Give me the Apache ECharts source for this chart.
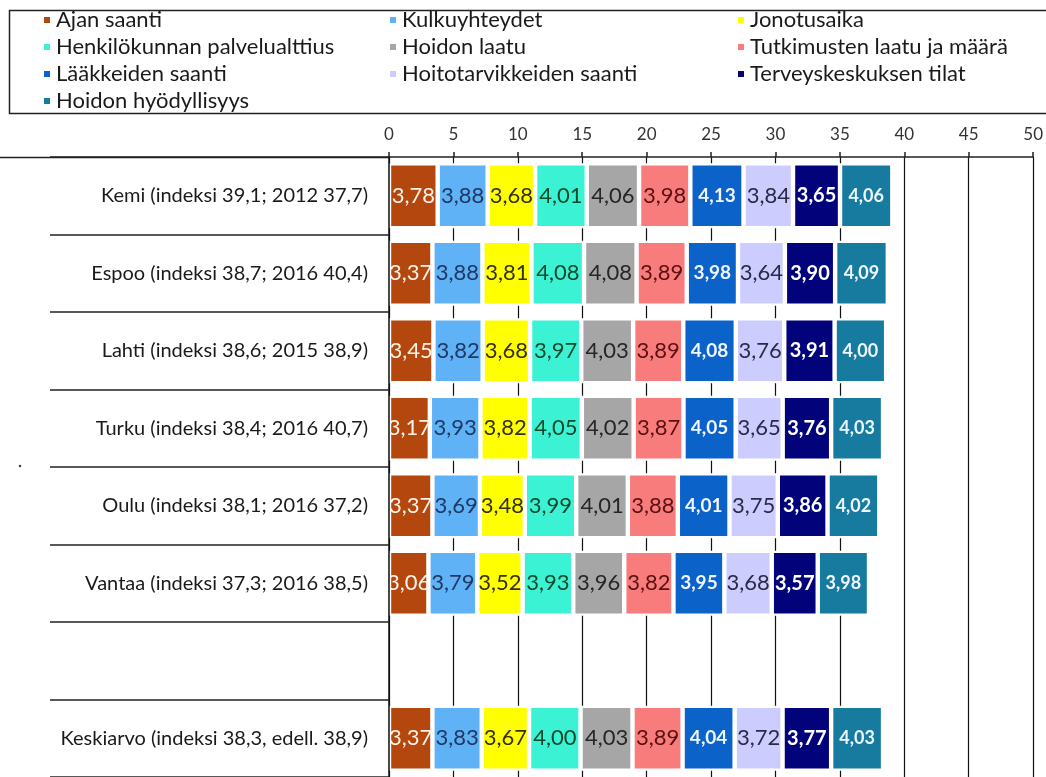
<!DOCTYPE html>
<html>
<head>
<meta charset="utf-8">
<script src="https://cdn.jsdelivr.net/npm/echarts@6/dist/echarts.min.js"></script>
<style>html,body{margin:0;padding:0;background:#fff}#c{width:1046px;height:777px}</style>
</head>
<body>
<div id="c"></div>
<script>
const categories = [
  'Kemi (indeksi 39,1; 2012 37,7)',
  'Espoo (indeksi 38,7; 2016 40,4)',
  'Lahti (indeksi 38,6; 2015 38,9)',
  'Turku (indeksi 38,4; 2016 40,7)',
  'Oulu (indeksi 38,1; 2016 37,2)',
  'Vantaa (indeksi 37,3; 2016 38,5)',
  '',
  'Keskiarvo (indeksi 38,3, edell. 38,9)'
];
const xTicks = [0, 5, 10, 15, 20, 25, 30, 35, 40, 45, 50];

const ajanSaanti        = [3.78, 3.37, 3.45, 3.17, 3.37, 3.06, null, 3.37];
const kulkuyhteydet     = [3.88, 3.88, 3.82, 3.93, 3.69, 3.79, null, 3.83];
const jonotusaika       = [3.68, 3.81, 3.68, 3.82, 3.48, 3.52, null, 3.67];
const henkilokunta      = [4.01, 4.08, 3.97, 4.05, 3.99, 3.93, null, 4.00];
const hoidonLaatu       = [4.06, 4.08, 4.03, 4.02, 4.01, 3.96, null, 4.03];
const tutkimukset       = [3.98, 3.89, 3.89, 3.87, 3.88, 3.82, null, 3.89];
const laakkeet          = [4.13, 3.98, 4.08, 4.05, 4.01, 3.95, null, 4.04];
const hoitotarvikkeet   = [3.84, 3.64, 3.76, 3.65, 3.75, 3.68, null, 3.72];
const tilat             = [3.65, 3.90, 3.91, 3.76, 3.86, 3.57, null, 3.77];
const hyodyllisyys      = [4.06, 4.09, 4.00, 4.03, 4.02, 3.98, null, 4.03];

const seriesNames = ['Ajan saanti','Kulkuyhteydet','Jonotusaika','Henkilökunnan palvelualttius','Hoidon laatu','Tutkimusten laatu ja määrä','Lääkkeiden saanti','Hoitotarvikkeiden saanti','Terveyskeskuksen tilat','Hoidon hyödyllisyys'];
const seriesData = [ajanSaanti,kulkuyhteydet,jonotusaika,henkilokunta,hoidonLaatu,tutkimukset,laakkeet,hoitotarvikkeet,tilat,hyodyllisyys];
const colors = ['#B3470E','#5FB2F6','#FFFF00','#3CF2D4','#A6A6A6','#F87C7C','#0B62C8','#CCCCFF','#02027A','#177BA0'];
const labelColors = ['#FFF2E8','#1F3864','#33300A','#0E4A2A','#262626','#5A1010','#F0F6FF','#2A2A48','#FFFFFF','#EEF7FF'];
const labelWeights = ['normal','normal','normal','normal','normal','normal','bold','normal','bold','bold'];
const labelSizes = [22,22,22,22,22,22,19,22,20,18];

const FONT = 'Lato';

const chart = echarts.init(document.getElementById('c'), null, {renderer:'canvas'});

const series = seriesNames.map((n, i) => ({
  name: n,
  type: 'bar',
  stack: 'total',
  data: seriesData[i],
  barWidth: 65,
  itemStyle: { color: colors[i], borderColor: '#fff', borderWidth: 2.2 },
  label: {
    show: true,
    position: 'inside',
    color: labelColors[i],
    fontFamily: FONT,
    fontSize: labelSizes[i],
    fontWeight: labelWeights[i],
    formatter: p => (p.value == null ? '' : Number(p.value).toFixed(2).replace('.', ','))
  },
  emphasis: { disabled: true },
  animation: false
}));

const legendCommon = {
  orient: 'vertical',
  icon: 'rect',
  itemWidth: 8,
  itemHeight: 8,
  itemGap: 5,
  padding: 0,
  top: 9,
  selectedMode: false,
  textStyle: { fontFamily: FONT, fontSize: 22, color: '#1a1a1a', lineHeight: 22 }
};

const option = {
  backgroundColor: '#fff',
  animation: false,
  legend: [
    Object.assign({}, legendCommon, { left: 42, data: [seriesNames[0], seriesNames[3], seriesNames[6], seriesNames[9]] }),
    Object.assign({}, legendCommon, { left: 388, data: [seriesNames[1], seriesNames[4], seriesNames[7]] }),
    Object.assign({}, legendCommon, { left: 736, data: [seriesNames[2], seriesNames[5], seriesNames[8]] })
  ],
  grid: { left: 389, right: 11, top: 157, bottom: -6, containLabel: false },
  xAxis: {
    type: 'value',
    position: 'top',
    min: xTicks[0],
    max: xTicks[xTicks.length - 1],
    interval: 5,
    axisLine: { show: true, lineStyle: { color: '#222', width: 1.5 } },
    axisTick: { show: true, length: 5, lineStyle: { color: '#222', width: 1.5 } },
    axisLabel: { fontFamily: FONT, fontSize: 17, color: '#333', margin: 14 },
    splitLine: { show: true, lineStyle: { color: '#111', width: 1.2 } }
  },
  yAxis: {
    type: 'category',
    data: categories,
    inverse: true,
    z: 3,
    axisLine: { show: true, lineStyle: { color: '#111', width: 1.5 } },
    axisTick: { show: true, length: 339, lineStyle: { color: '#222', width: 1.5 } },
    axisLabel: { fontFamily: FONT, fontSize: 20, color: '#1a1a1a', margin: 21 }
  },
  graphic: [
    { type: 'rect', shape: { x: 9.5, y: 10.5, width: 1060, height: 103 }, style: { fill: 'none', stroke: '#222', lineWidth: 1.5 }, silent: true },
    { type: 'line', shape: { x1: 0, y1: 157.5, x2: 389, y2: 157.5 }, style: { stroke: '#222', lineWidth: 1.5 }, silent: true },
    { type: 'circle', shape: { cx: 20, cy: 466, r: 1.3 }, style: { fill: '#444' }, silent: true }
  ],
  series: series
};

chart.setOption(option);
</script>
</body>
</html>
